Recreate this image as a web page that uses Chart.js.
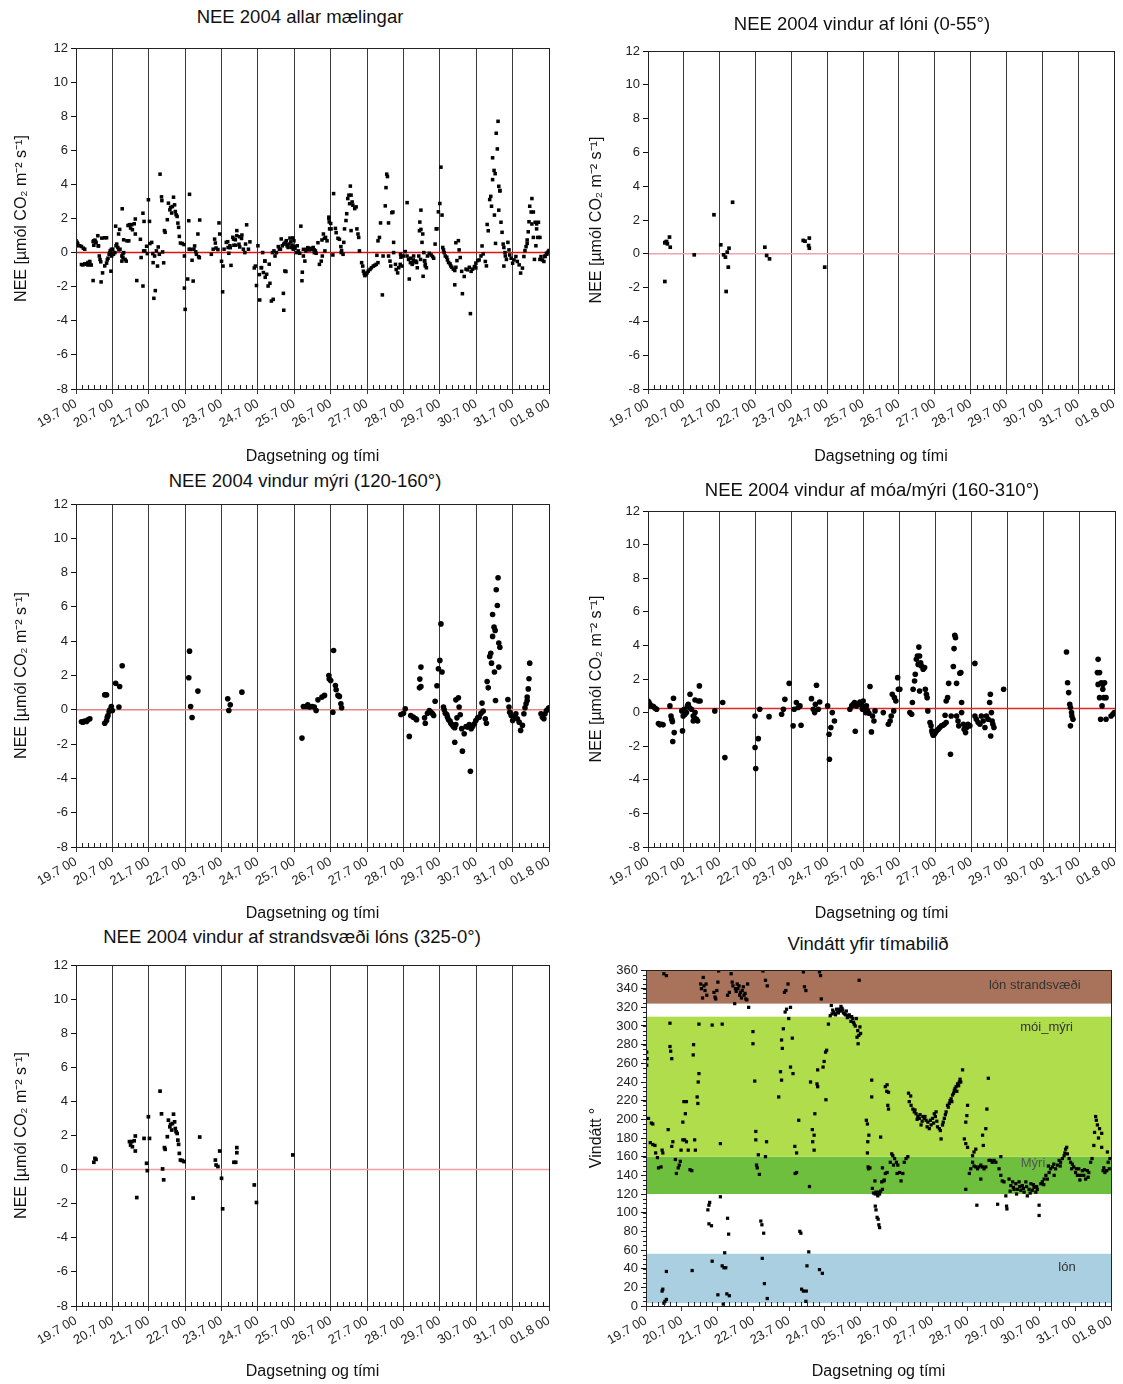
<!DOCTYPE html>
<html>
<head>
<meta charset="utf-8">
<script src="https://cdn.jsdelivr.net/npm/chart.js@4.4.0/dist/chart.umd.min.js"></script>
<style>
  body { margin: 0; background: #fff; width: 1123px; height: 1384px; position: relative; overflow: hidden;
         font-family: "Liberation Sans", Arial, sans-serif; }
  .title { position: absolute; transform: translate(-50%, -50%); font-size: 18.5px; white-space: nowrap; color: #111; }
</style>
</head>
<body>
<script>
// x = days since 19.7 00
const dayLabels = ['19.7 00', '20.7 00', '21.7 00', '22.7 00', '23.7 00', '24.7 00', '25.7 00',
  '26.7 00', '27.7 00', '28.7 00', '29.7 00', '30.7 00', '31.7 00', '01.8 00'];

// NEE, wind from lagoon (0-55)
const lonPoints = [[0.47,-1.64],[0.47,0.65],[0.49,0.69],[0.52,0.73],[0.54,0.59],[0.6,0.99],[0.62,0.39],[1.29,-0.06],
  [1.84,2.31],[2.03,0.53],[2.11,-0.06],[2.16,-0.2],[2.18,-2.23],[2.21,0.1],[2.24,-0.79],[2.26,0.33],[2.36,3.05],
  [3.26,0.39],[3.31,-0.1],[3.39,-0.3],[4.33,0.79],[4.38,0.75],[4.48,0.49],[4.5,0.93],[4.5,0.33],[4.93,-0.79]];

// NEE, wind from bog (120-160)
const myriPoints = [[0.15,-0.7],[0.19,-0.72],[0.24,-0.66],[0.29,-0.68],[0.33,-0.58],[0.38,-0.52],
  [0.79,0.87],[0.84,0.87],[0.79,-0.78],[0.84,-0.62],[0.86,-0.43],[0.88,-0.33],[0.91,-0.1],[0.93,0.0],[0.97,0.19],[1.0,-0.04],
  [1.09,1.55],[1.2,1.36],[1.18,0.16],[1.27,2.57],
  [3.1,1.87],[3.12,3.42],[3.15,0.19],[3.19,-0.45],[3.35,1.09],
  [4.17,0.64],[4.2,-0.04],[4.24,0.29],[4.56,1.03],
  [6.21,-1.65],[6.25,0.19],[6.33,0.19],[6.37,0.29],[6.42,0.16],[6.49,0.19],[6.55,0.16],[6.6,-0.04],[6.65,0.58],[6.76,0.74],[6.83,0.84],
  [6.95,2.0],[6.96,1.8],[7.0,1.71],[7.06,-0.14],[7.08,3.46],[7.13,1.42],[7.15,1.17],[7.2,0.84],[7.24,0.78],[7.28,0.35],[7.3,0.12],
  [8.93,-0.27],[9.0,-0.2],[9.05,0.06],[9.16,-1.55],[9.2,-0.33],[9.27,-0.43],[9.34,-0.52],[9.36,-0.58],
  [9.44,1.28],[9.45,1.79],[9.48,1.36],[9.48,2.49],
  [9.58,-0.47],[9.6,-0.78],[9.66,-0.2],[9.71,-0.04],[9.76,-0.14],[9.8,-0.23],[9.83,-0.33],
  [9.87,0.5],[9.92,1.4],[9.96,2.39],[10.0,2.88],[10.03,5.01],[10.06,2.2],
  [10.1,0.16],[10.12,0.0],[10.15,-0.2],[10.19,-0.27],[10.21,-0.43],[10.24,-0.58],[10.28,-0.66],[10.3,-0.78],[10.33,-0.86],
  [10.37,-0.97],[10.41,-1.05],[10.41,-1.89],[10.44,-0.86],[10.44,0.58],[10.47,-0.47],[10.51,0.7],[10.53,0.16],[10.56,-0.29],
  [10.6,-1.1],[10.62,-2.41],[10.67,-1.4],[10.72,-0.97],[10.76,-1.01],[10.81,-0.86],[10.84,-3.58],[10.86,-1.1],[10.9,-0.97],
  [10.95,-0.82],[10.99,-0.62],[11.04,-0.47],[11.08,-0.43],[11.13,-0.2],[11.16,0.39],[11.19,-0.08],[11.25,-0.52],[11.28,-0.78],
  [11.3,1.65],[11.33,1.28],[11.37,3.11],[11.4,3.3],[11.42,2.72],[11.45,4.28],[11.45,5.56],[11.49,4.82],[11.52,4.63],[11.5,2.2],
  [11.53,0.54],[11.55,7.0],[11.58,6.08],[11.6,7.7],[11.62,3.89],[11.65,3.65],[11.62,2.49],
  [11.87,0.6],[11.9,0.16],[11.92,-0.14],[11.96,-0.33],[12.0,-0.62],[12.04,-0.43],[12.09,-0.23],[12.13,-0.52],[12.18,-0.72],
  [12.22,-1.2],[12.27,-0.91],[12.31,-0.23],[12.34,0.12],[12.37,0.35],[12.4,0.54],[12.4,0.74],[12.43,1.22],[12.45,1.81],[12.47,2.72],
  [12.78,-0.23],[12.82,-0.43],[12.86,-0.52],[12.89,-0.23],[12.93,-0.04],[12.98,0.06],[13.0,0.12]];

// NEE, wind from heath/bog (160-310)
const moaPoints = [[0.0,0.69],[0.01,0.4],[0.03,0.6],[0.05,0.5],[0.1,0.4],[0.15,0.36],[0.2,0.26],[0.24,0.2],
  [0.29,-0.65],[0.33,-0.73],[0.38,-0.69],[0.42,-0.73],
  [0.61,0.4],[0.64,-0.2],[0.66,-0.4],[0.68,-0.54],[0.69,-1.72],[0.71,0.85],[0.73,-1.19],
  [0.94,0.1],[0.96,-1.09],[0.98,-0.2],[1.01,0.2],[1.03,-0.1],[1.07,0.0],[1.1,0.4],[1.12,0.5],[1.15,0.3],[1.17,1.09],[1.21,0.2],
  [1.26,-0.2],[1.26,-0.5],[1.29,-0.3],[1.31,0.75],[1.31,0.0],[1.35,-0.4],[1.38,-0.5],[1.4,0.69],[1.43,1.59],[1.45,0.69],
  [1.86,0.1],[2.08,0.6],[2.14,-2.68],
  [2.98,-0.2],[2.98,-2.08],[3.0,-3.33],[3.07,-1.55],[3.11,0.2],[3.37,-0.24],
  [3.72,-0.1],[3.77,0.2],[3.81,0.79],[3.93,1.74],[4.04,-0.79],[4.07,0.2],[4.13,0.6],[4.18,0.3],[4.23,0.4],[4.26,-0.75],
  [4.55,0.83],[4.6,0.2],[4.64,0.0],[4.66,0.5],[4.69,1.63],[4.74,0.2],[4.78,0.63],
  [5.0,0.4],[5.04,-1.29],[5.05,-2.78],[5.09,-0.89],[5.13,0.0],[5.19,-0.5],
  [5.62,0.2],[5.67,0.4],[5.71,0.5],[5.75,0.6],[5.77,-1.11],[5.8,0.4],[5.85,0.5],[5.9,0.63],[5.94,0.44],[5.97,0.2],[5.99,0.69],
  [6.02,0.24],[6.06,0.0],[6.08,0.4],[6.11,0.1],[6.15,-0.04],[6.18,1.55],[6.22,-1.15],[6.25,-0.2],[6.29,-0.5],[6.32,0.1],
  [6.55,0.0],[6.69,-0.69],[6.74,-0.5],[6.77,-0.2],[6.8,1.09],[6.84,0.1],[6.86,0.89],[6.9,0.69],[6.95,2.08],[6.97,1.39],[7.01,1.39],
  [7.29,0.0],[7.34,-0.1],[7.36,0.6],[7.38,1.39],[7.42,1.88],[7.44,2.28],[7.47,3.17],[7.5,3.37],[7.52,2.87],[7.54,3.9],[7.56,3.37],
  [7.56,1.29],[7.59,2.97],[7.61,2.78],[7.66,2.58],[7.7,2.68],[7.72,1.39],[7.75,1.09],[7.77,0.89],[7.79,0.1],
  [7.85,-0.59],[7.88,-0.79],[7.9,-1.09],[7.92,-1.23],[7.94,-1.35],[7.97,-1.29],[8.0,-1.19],[8.03,-1.09],[8.08,-0.99],[8.12,-0.89],
  [8.17,-0.79],[8.21,-0.75],[8.25,-0.69],[8.27,-0.16],[8.3,-0.59],
  [8.3,0.69],[8.34,0.89],[8.37,1.74],[8.42,-2.48],[8.44,-0.2],[8.5,2.74],[8.52,3.81],[8.54,4.6],[8.56,4.46],[8.59,1.74],[8.59,-0.2],
  [8.63,-0.5],[8.65,-0.79],[8.68,2.34],[8.71,2.38],[8.73,0.6],[8.73,0.0],[8.78,-0.69],[8.8,-0.99],[8.84,-1.19],[8.87,-0.89],
  [8.91,-0.69],[8.96,-0.79],
  [9.1,2.93],[9.1,-0.2],[9.14,-0.4],[9.19,-0.59],[9.24,-0.69],[9.28,-0.2],[9.33,-0.5],[9.38,-0.89],[9.42,-0.2],[9.47,-0.4],
  [9.51,0.6],[9.53,1.09],[9.54,-1.39],[9.56,0.0],[9.58,-0.5],[9.6,-0.69],[9.63,-0.89],[9.9,1.39],
  [11.65,3.61],[11.68,1.78],[11.71,1.19],[11.74,0.5],[11.76,0.3],[11.76,-0.79],[11.79,0.0],[11.8,-0.2],[11.83,-0.4],
  [12.51,2.38],[12.53,3.17],[12.53,1.68],[12.57,2.38],[12.57,0.89],[12.6,-0.4],[12.62,1.78],[12.64,0.4],[12.66,1.68],[12.66,1.39],
  [12.69,0.89],[12.71,1.78],[12.75,0.89],[12.75,-0.4],[12.89,-0.2],[12.94,-0.1],[12.98,0.0]];

// NEE, wind from lagoon shore (325-0)
const strandPoints = [[0.49,0.43],[0.52,0.66],[0.55,0.6],
  [1.47,1.64],[1.5,1.44],[1.53,1.64],[1.55,1.34],[1.6,1.69],[1.63,1.97],[1.63,1.09],[1.67,-1.64],
  [1.87,1.83],[1.94,0.37],[1.96,-0.06],[1.99,3.1],[2.02,1.83],
  [2.31,4.6],[2.35,3.27],[2.38,0.04],[2.41,-0.6],[2.43,1.29],[2.45,1.19],
  [2.51,1.93],[2.54,2.9],[2.58,2.51],[2.6,2.65],[2.63,2.32],[2.65,2.7],[2.68,3.25],[2.71,2.8],[2.73,2.41],[2.75,2.22],
  [2.78,2.12],[2.8,1.73],[2.82,1.48],[2.84,0.95],[2.87,0.56],[2.92,0.53],[2.97,0.47],
  [3.22,-1.67],[3.4,1.91],[3.83,0.56],[3.85,0.27],[3.9,0.18],[3.95,1.09],[4.0,-0.51],[4.03,-2.3],
  [4.34,0.43],[4.39,0.43],[4.42,1.29],[4.42,0.99],[4.9,-0.9],[4.96,-1.93],[5.96,0.86]];

// NEE measured while wind was outside the four sectors (only in "allar")
const otherPoints = [[1.77,0.78],[1.79,-0.29],[1.84,-1.96],[1.89,0.1],[2.12,-0.59],[2.29,-0.1],[3.24,0.2],[3.29,0.05],[4.31,0.9],
  [5.1,-0.88],[5.15,-1.17],[5.19,-0.49],[5.2,-1.45],[5.24,-1.27],[5.28,-1.96],[5.31,-0.68],[5.33,-1.8],[5.37,-2.84],[5.4,0.0],
  [5.42,-2.74],[5.44,0.1],[5.47,-0.2],[5.51,0.0],[5.56,0.35],[5.59,0.2],[5.64,0.8],[5.7,-2.39],[5.71,-3.38],[5.74,-1.08],
  [5.78,0.7],[5.83,0.3],[5.88,0.85],[5.93,0.3],[6.0,0.35],[6.45,0.25],[6.52,0.3],[6.58,0.1],
  [8.92,-0.1],[9.26,-0.6],[10.08,0.3],[10.99,-0.9]];

// wind direction (degrees)
const windPoints = [[0.02,272],[0.03,265],[0.02,258],[0.07,201],[0.15,196],[0.19,195],[0.12,175],[0.19,173],[0.25,172],[0.27,164],
  [0.32,159],[0.35,148],[0.42,149],[0.45,167],[0.47,164],[0.45,16],[0.47,18],[0.5,3],[0.53,5],[0.57,7],[0.57,37],[0.5,356],
  [0.57,354],[0.62,189],[0.67,303],[0.67,278],[0.69,273],[0.72,265],[0.72,171],[0.75,176],[0.82,157],[0.85,142],[0.9,148],
  [0.93,151],[0.96,155],[0.98,167],
  [1.03,178],[1.03,197],[1.06,219],[1.1,206],[1.13,219],[1.08,178],[1.13,176],[1.18,167],[1.23,146],[1.28,145],[1.29,38],
  [1.33,280],[1.32,269],[1.36,178],[1.38,167],[1.43,224],[1.45,217],[1.46,240],[1.48,249],[1.48,302],[1.53,345],[1.55,340],
  [1.58,330],[1.6,352],[1.62,343],[1.65,338],[1.68,345],[1.7,333],[1.73,103],[1.76,108],[1.78,111],[1.76,88],[1.83,86],
  [1.85,301],[1.85,48],[1.9,336],[1.93,331],[1.95,329],[1.98,338],[2.01,347],[2.03,359],
  [2.01,12],[2.08,174],[2.08,117],[2.13,302],[2.13,43],[2.18,41],[2.23,41],[2.2,57],[2.16,2],[2.26,13],[2.33,11],[2.28,94],
  [2.31,77],[2.28,333],[2.33,336],[2.38,356],[2.41,347],[2.43,343],[2.48,324],[2.5,340],[2.52,337],[2.55,345],[2.57,340],
  [2.6,343],[2.62,333],[2.64,336],[2.67,330],[2.69,338],[2.72,342],[2.74,333],[2.77,335],[2.79,329],[2.82,328],[2.84,345],[2.87,320],
  [2.99,294],[2.99,281],[3.04,241],[3.07,187],[3.07,178],[3.09,151],[3.11,148],[3.14,162],[3.17,141],[3.21,91],[3.24,87],
  [3.29,78],[3.25,51],[3.27,359],[3.31,24],[3.39,8],[3.34,349],[3.39,343],[3.37,176],[3.34,160],[3.71,224],[3.76,251],
  [3.79,242],[3.79,285],[3.81,276],[3.84,297],[3.89,315],[3.93,318],[3.87,336],[3.91,338],[3.97,345],[3.99,308],
  [4.04,320],[4.04,256],[4.11,249],[4.09,287],[4.16,171],[4.21,164],[4.17,142],[4.21,143],[4.27,199],[4.3,80],[4.33,78],
  [4.35,18],[4.4,16],[4.48,16],[4.47,5],[4.4,358],[4.43,342],[4.47,338],[4.5,43],[4.55,58],[4.57,128],[4.6,240],[4.65,189],
  [4.7,183],[4.66,176],[4.7,167],[4.72,206],[4.78,238],[4.8,235],[4.8,253],[4.85,358],[4.88,354],[4.9,329],[4.85,39],[4.93,35],
  [4.95,256],[4.98,262],
  [5.02,272],[5.05,274],[5.03,221],[5.1,302],[5.15,311],[5.18,322],[5.2,313],[5.22,317],[5.25,315],[5.28,313],[5.3,312],
  [5.33,318],[5.35,315],[5.38,314],[5.4,318],[5.43,316],[5.45,321],[5.48,319],[5.5,317],[5.52,314],[5.55,313],[5.58,312],
  [5.6,316],[5.63,309],[5.65,311],[5.68,312],[5.7,310],[5.73,305],[5.75,310],[5.78,308],[5.8,304],[5.82,302],[5.85,300],
  [5.88,308],[5.9,288],[5.92,295],[5.95,290],[5.93,281],[5.96,349],[5.98,299],[6.0,292],
  [6.16,199],[6.19,195],[6.23,183],[6.19,164],[6.21,149],[6.26,148],[6.2,176],[6.22,147],[6.31,242],[6.31,224],[6.33,126],
  [6.36,121],[6.41,120],[6.46,121],[6.51,122],[6.56,123],[6.61,125],[6.4,134],[6.43,122],[6.48,118],[6.53,120],[6.59,133],
  [6.65,134],[6.41,107],[6.43,103],[6.46,95],[6.49,93],[6.51,87],[6.53,84],[6.56,181],[6.61,148],[6.66,135],[6.69,142],
  [6.69,235],[6.73,230],[6.76,215],[6.74,237],[6.78,229],[6.78,211],[6.74,143],[6.83,154],[6.87,163],[6.9,161],[6.92,151],
  [6.95,158],[7.0,154],[7.02,142],[7.04,151],[7.09,143],[7.13,134],[7.18,142],[7.22,154],[7.27,158],[7.32,160],
  [7.34,228],[7.36,219],[7.4,225],[7.41,215],[7.46,211],[7.5,208],[7.52,210],[7.55,206],[7.58,200],[7.6,203],[7.64,201],
  [7.66,205],[7.69,194],[7.72,198],[7.74,203],[7.78,201],[7.8,203],[7.83,199],[7.86,192],[7.88,197],[7.92,190],[7.95,199],
  [7.97,194],[8.01,201],[8.04,196],[8.06,206],[8.09,203],[8.11,208],[8.13,198],[8.15,192],[8.2,190],[8.23,188],[8.25,179],
  [8.29,194],[8.31,197],[8.34,201],[8.37,205],[8.39,208],[8.43,215],[8.45,213],[8.48,217],[8.5,220],[8.53,222],[8.55,219],
  [8.57,226],[8.6,228],[8.62,231],[8.64,233],[8.67,235],[8.69,230],[8.71,238],[8.74,236],[8.76,240],[8.78,243],[8.8,240],[8.85,253],
  [8.9,179],[8.94,174],[8.94,197],[8.97,204],[8.99,215],[8.99,170],[8.94,125],[9.04,142],[9.08,147],[9.13,154],[9.13,161],
  [9.17,165],[9.17,150],[9.22,168],[9.22,149],[9.25,108],[9.27,147],[9.31,149],[9.36,151],[9.36,136],[9.41,149],[9.41,183],
  [9.43,172],[9.45,147],[9.5,149],[9.5,190],[9.53,211],[9.57,244],[9.59,156],[9.64,156],[9.68,154],[9.73,156],[9.78,154],
  [9.83,109],[9.87,147],[9.92,140],[9.92,160],[9.96,134],
  [10.01,133],[10.06,118],[10.08,107],[10.09,104],[10.15,136],[10.18,123],[10.2,129],[10.25,133],[10.27,127],[10.29,125],
  [10.34,131],[10.36,120],[10.38,125],[10.43,133],[10.45,128],[10.48,124],[10.52,129],[10.55,126],[10.57,122],[10.62,133],
  [10.64,128],[10.66,118],[10.71,125],[10.74,121],[10.76,131],[10.8,124],[10.83,130],[10.85,127],[10.9,122],[10.92,128],
  [10.94,125],[10.99,108],[10.99,97],
  [11.04,131],[11.08,133],[11.12,130],[11.13,136],[11.18,140],[11.22,136],[11.25,150],[11.27,143],[11.31,147],[11.36,149],
  [11.4,152],[11.41,140],[11.45,147],[11.5,151],[11.55,156],[11.58,150],[11.59,154],[11.64,158],[11.69,161],[11.71,164],
  [11.73,168],[11.76,170],[11.78,163],[11.83,158],[11.87,154],[11.9,147],[11.92,152],[11.96,149],[12.01,143],[12.03,147],
  [12.06,140],[12.1,147],[12.13,135],[12.15,140],[12.2,145],[12.24,140],[12.26,146],[12.29,136],[12.34,145],[12.36,138],
  [12.38,143],[12.43,154],[12.47,158],[12.52,172],[12.54,186],[12.57,203],[12.59,199],[12.62,194],[12.65,180],[12.68,190],
  [12.74,185],[12.74,170],[12.78,145],[12.8,148],[12.83,143],[12.88,145],[12.9,165],[12.92,154],[12.95,147],[12.97,158]];

// wind sectors drawn as bands in the last panel
const bandNames = ['lón', 'Mýri', 'mói_mýri', 'lón strandsvæði'];
const bandLow = [3, 120, 160, 324];
const bandHigh = [56, 160, 310, 360];

const neeRange = [-8, 12];
const windRange = [0, 360];

const bandColors = ['#a9cfe1', '#6fbf3e', '#afdd4b', '#a8725b'];
const bandLabelAt = [[11.77, 41], [10.82, 153], [11.2, 298], [10.87, 344]];
const bandTextColor = ['#333', '#555', '#333', '#333'];

Chart.defaults.font.family = '"Liberation Sans", Arial, sans-serif';
Chart.defaults.color = '#111';

const yTitleNEE = 'NEE [µmól CO₂ m⁻² s⁻¹]';
const tickSize = 13;
const axisTitleSize = 16;

function fixScale(size) {
  return function (s) {
    if (s.isHorizontal()) s.height = size; else s.width = size;
    s.paddingLeft = 0; s.paddingRight = 0; s.paddingTop = 0; s.paddingBottom = 0;
  };
}

const framePlugin = {
  id: 'frame',
  afterDraw(chart, args, opts) {
    const { ctx, chartArea: a, scales: { x, y } } = chart;
    ctx.save();
    ctx.strokeStyle = '#222';
    ctx.lineWidth = 1;
    ctx.strokeRect(Math.round(a.left) + 0.5, Math.round(a.top) + 0.5,
      Math.round(a.right - a.left), Math.round(a.bottom - a.top));
    ctx.beginPath();
    // minor ticks every 4 hours
    for (let k = 1; k < 13 * 6; k++) {
      if (k % 6 === 0) continue;
      const px = Math.round(x.getPixelForValue(k / 6)) + 0.5;
      ctx.moveTo(px, a.bottom);
      ctx.lineTo(px, a.bottom - 4);
    }
    if (opts.yMinor) {
      for (let v = y.min; v <= y.max; v += opts.yMinor) {
        const py = Math.round(y.getPixelForValue(v)) + 0.5;
        ctx.moveTo(a.left, py);
        ctx.lineTo(a.left - 3, py);
      }
    }
    ctx.stroke();
    ctx.restore();
  }
};

const bandPlugin = {
  id: 'bands',
  beforeDatasetsDraw(chart) {
    const { ctx, chartArea: a, scales: { x, y } } = chart;
    ctx.save();
    bandNames.forEach((name, i) => {
      const top = y.getPixelForValue(bandHigh[i]);
      const bot = y.getPixelForValue(bandLow[i]);
      ctx.fillStyle = bandColors[i];
      ctx.fillRect(a.left, top, a.right - a.left, bot - top);
    });
    ctx.font = '13px "Liberation Sans", Arial, sans-serif';
    ctx.textAlign = 'center';
    ctx.textBaseline = 'middle';
    bandNames.forEach((name, i) => {
      ctx.fillStyle = bandTextColor[i];
      ctx.fillText(name, x.getPixelForValue(bandLabelAt[i][0]), y.getPixelForValue(bandLabelAt[i][1]));
    });
    ctx.restore();
  }
};

function toXY(points) {
  return points.map(p => ({ x: p[0], y: p[1] }));
}

const allPoints = [].concat(lonPoints, myriPoints, moaPoints, strandPoints, otherPoints);

const panels = [
  { title: 'NEE 2004 allar mælingar', tx: 300, ty: 17, box: { x: 0, y: 30, w: 561, h: 440 },
    area: { l: 76, r: 549, t: 48, b: 389 }, points: allPoints, style: 'rect', radius: 2.5,
    zero: 0, zeroColor: '#e31212', xTitleY: 457 },
  { title: 'NEE 2004 vindur af lóni (0-55°)', tx: 862, ty: 24, box: { x: 561, y: 30, w: 562, h: 440 },
    area: { l: 648, r: 1114, t: 51, b: 389 }, points: lonPoints, style: 'rect', radius: 2.6,
    zero: 0, zeroColor: '#f0a3ad', xTitleY: 457 },
  { title: 'NEE 2004 vindur mýri (120-160°)', tx: 305, ty: 481, box: { x: 0, y: 495, w: 561, h: 430 },
    area: { l: 76, r: 549, t: 504, b: 847 }, points: myriPoints, style: 'circle', radius: 2.8,
    zero: 0, zeroColor: '#e58484', xTitleY: 914 },
  { title: 'NEE 2004 vindur af móa/mýri (160-310°)', tx: 872, ty: 490, box: { x: 561, y: 495, w: 562, h: 430 },
    area: { l: 648, r: 1115, t: 511, b: 847 }, points: moaPoints, style: 'circle', radius: 2.8,
    zero: 0.25, zeroColor: '#e02525', xTitleY: 914 },
  { title: 'NEE 2004 vindur af strandsvæði lóns (325-0°)', tx: 292, ty: 937, box: { x: 0, y: 955, w: 561, h: 429 },
    area: { l: 76, r: 549, t: 965, b: 1306 }, points: strandPoints, style: 'rect', radius: 2.6,
    zero: 0, zeroColor: '#f0a0a0', xTitleY: 1372 },
  { title: 'Vindátt yfir tímabilið', tx: 868, ty: 944, box: { x: 561, y: 955, w: 562, h: 429 },
    area: { l: 646, r: 1111, t: 970, b: 1306 }, points: windPoints, style: 'rect', radius: 2.3,
    wind: true, xTitleY: 1372 }
];

panels.forEach(p => {
  const cv = document.createElement('canvas');
  cv.width = p.box.w;
  cv.height = p.box.h;
  cv.style.cssText = `position:absolute;left:${p.box.x}px;top:${p.box.y}px;width:${p.box.w}px;height:${p.box.h}px`;
  document.body.appendChild(cv);

  const t = document.createElement('div');
  t.className = 'title';
  t.textContent = p.title;
  t.style.left = p.tx + 'px';
  t.style.top = p.ty + 'px';
  document.body.appendChild(t);

  const datasets = [{
    data: toXY(p.points),
    pointStyle: p.style,
    pointRadius: p.radius,
    pointBackgroundColor: '#000',
    pointBorderWidth: 0,
    showLine: false
  }];
  if (!p.wind) {
    datasets.push({
      data: [{ x: 0, y: p.zero }, { x: 13, y: p.zero }],
      showLine: true,
      borderColor: p.zeroColor,
      borderWidth: 1.5,
      pointRadius: 0
    });
  }

  const xHeight = p.box.y + p.box.h - p.area.b;
  const yWidth = p.area.l - p.box.x;
  const yTitleX = p.box.x === 0 ? 22 : 597;
  const half = axisTitleSize * 1.2 / 2;

  new Chart(cv, {
    type: 'scatter',
    data: { datasets: datasets },
    options: {
      responsive: false,
      animation: false,
      devicePixelRatio: 1,
      layout: { padding: { top: p.area.t - p.box.y, right: p.box.x + p.box.w - p.area.r, left: 0, bottom: 0 } },
      plugins: {
        legend: { display: false },
        tooltip: { enabled: false },
        frame: { yMinor: p.wind ? 5 : 0 }
      },
      scales: {
        x: {
          type: 'linear',
          min: 0,
          max: 13,
          afterFit: fixScale(xHeight),
          border: { color: '#111', width: 1 },
          grid: { color: '#3a3a3a', lineWidth: 1, drawOnChartArea: !p.wind, tickLength: 5 },
          ticks: {
            stepSize: 1, autoSkip: false, maxRotation: 30, minRotation: 30, padding: 2,
            font: { size: tickSize }, color: '#222',
            callback: v => dayLabels[v]
          },
          title: {
            display: true, text: 'Dagsetning og tími', font: { size: axisTitleSize }, color: '#111',
            padding: { top: 0, bottom: (p.box.y + p.box.h - p.xTitleY) - half }
          }
        },
        y: {
          min: p.wind ? windRange[0] : neeRange[0],
          max: p.wind ? windRange[1] : neeRange[1],
          afterFit: fixScale(yWidth),
          border: { color: '#111', width: 1 },
          grid: { drawOnChartArea: false, tickLength: 5, color: '#111' },
          ticks: { stepSize: p.wind ? 20 : 2, autoSkip: false, padding: 3, font: { size: tickSize }, color: '#222' },
          title: {
            display: true, text: p.wind ? 'Vindátt °' : yTitleNEE, font: { size: axisTitleSize }, color: '#111',
            padding: { top: (yTitleX - p.box.x) - half, bottom: 0 }
          }
        }
      }
    },
    plugins: p.wind ? [bandPlugin, framePlugin] : [framePlugin]
  });
});
</script>
</body>
</html>
